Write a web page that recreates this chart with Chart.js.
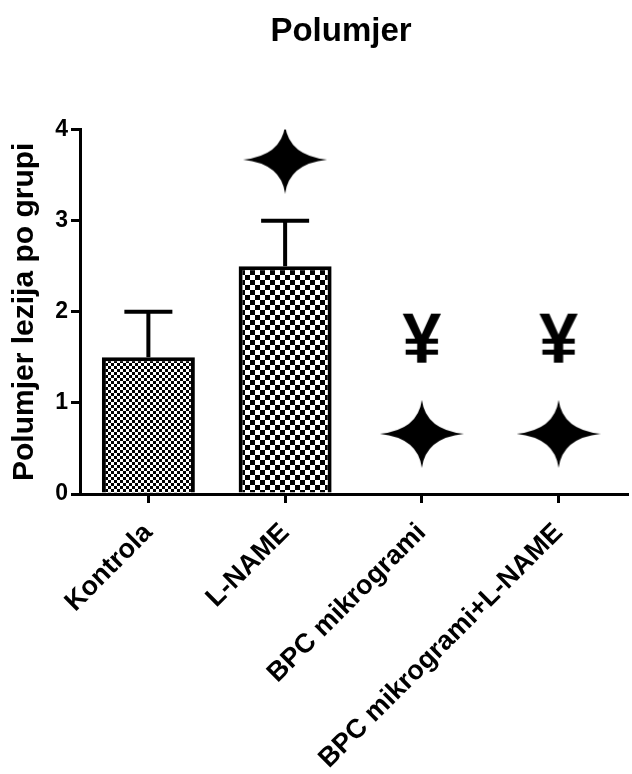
<!DOCTYPE html>
<html>
<head>
<meta charset="utf-8">
<script src="https://cdn.jsdelivr.net/npm/chart.js@4"></script>
<style>
  body { margin: 0; background: #fff; }
  #wrap { width: 632px; height: 774px; }
</style>
</head>
<body>
<div id="wrap"><canvas id="myChart" width="632" height="774"></canvas></div>
<script>
// podaci
const grupe = ['Kontrola', 'L-NAME', 'BPC mikrogrami', 'BPC mikrogrami+L-NAME'];
const polumjer = [1.5, 2.5, 0, 0];
const sem = [0.5, 0.5, 0, 0];
const zvjezdice = [null, 3.67, 0.66, 0.66]; // znak zvijezde
const jen = [null, null, 1.65, 1.65];       // znak ¥
const yTicks = [0, 1, 2, 3, 4];

const FONT = "'Liberation Sans', Arial, sans-serif";

// uzorak šahovnice
function sahovnica(cell) {
    const c = document.createElement('canvas');
    c.width = cell * 2;
    c.height = cell * 2;
    const g = c.getContext('2d');
    g.fillStyle = '#fff';
    g.fillRect(0, 0, c.width, c.height);
    g.fillStyle = '#000';
    g.fillRect(0, 0, cell, cell);
    g.fillRect(cell, cell, cell, cell);
    return document.createElement('canvas').getContext('2d').createPattern(c, 'repeat');
}

// zvijezda sa četiri kraka
function zvijezda(w, h) {
    const c = document.createElement('canvas');
    c.width = w;
    c.height = h;
    const g = c.getContext('2d');
    const cx = w / 2, cy = h / 2, k = 4;
    g.fillStyle = '#000';
    g.beginPath();
    g.moveTo(w, cy);
    g.quadraticCurveTo(cx + k, cy + k, cx, h);
    g.quadraticCurveTo(cx - k, cy + k, 0, cy);
    g.quadraticCurveTo(cx - k, cy - k, cx, 0);
    g.quadraticCurveTo(cx + k, cy - k, w, cy);
    g.closePath();
    g.fill();
    return c;
}

function znakJen(size) {
    const c = document.createElement('canvas');
    c.width = size;
    c.height = size;
    const g = c.getContext('2d');
    g.fillStyle = '#000';
    g.font = 'bold ' + size + 'px ' + FONT;
    g.textAlign = 'center';
    g.textBaseline = 'middle';
    g.fillText('¥', size / 2, size / 2);
    return c;
}

const fine = sahovnica(3);
const coarse = sahovnica(5);

// error bars
const errorBars = {
    id: 'errorBars',
    afterDatasetsDraw(chart) {
        const meta = chart.getDatasetMeta(0);
        const y = chart.scales.y;
        const ctx = chart.ctx;
        ctx.save();
        ctx.strokeStyle = '#000';
        ctx.lineWidth = 4;
        meta.data.forEach((bar, i) => {
            if (!sem[i]) return;
            const top = y.getPixelForValue(polumjer[i] + sem[i]);
            ctx.beginPath();
            ctx.moveTo(bar.x, bar.y);
            ctx.lineTo(bar.x, top);
            ctx.moveTo(bar.x - 24, top);
            ctx.lineTo(bar.x + 24, top);
            ctx.stroke();
        });
        ctx.restore();
    }
};

const ctx = document.getElementById('myChart').getContext('2d');

new Chart(ctx, {
    type: 'bar',
    data: {
        labels: grupe,
        datasets: [{
            data: polumjer,
            backgroundColor: [fine, coarse, fine, fine],
            borderColor: '#000',
            borderWidth: 4,
            barPercentage: 0.68,
            categoryPercentage: 1,
            order: 2
        }, {
            type: 'line',
            data: zvjezdice,
            showLine: false,
            pointStyle: zvijezda(84, 68),
            order: 1
        }, {
            type: 'line',
            data: jen,
            showLine: false,
            pointStyle: znakJen(70),
            order: 1
        }]
    },
    options: {
        responsive: false,
        animation: false,
        layout: {
            padding: { left: 50, right: 0, top: 0, bottom: 0 }
        },
        plugins: {
            legend: { display: false },
            tooltip: { enabled: false },
            title: {
                display: true,
                text: 'Polumjer',
                color: '#000',
                font: { family: FONT, size: 33, weight: 'bold' },
                padding: { top: 12, bottom: 78 }
            }
        },
        scales: {
            x: {
                offset: true,
                afterFit: (axis) => {
                    axis.height = 280;
                },
                border: { color: '#000', width: 3 },
                grid: {
                    offset: false,
                    drawOnChartArea: false,
                    color: '#000',
                    lineWidth: 3,
                    tickLength: 9
                },
                ticks: {
                    color: '#000',
                    autoSkip: false,
                    maxRotation: 45,
                    minRotation: 45,
                    padding: 14,
                    font: { family: FONT, size: 27, weight: 'bold' }
                }
            },
            y: {
                min: 0,
                max: 4,
                afterBuildTicks: (axis) => {
                    axis.ticks = yTicks.map(v => ({ value: v }));
                },
                afterFit: (axis) => {
                    axis.width = 30;
                },
                border: { color: '#000', width: 3 },
                grid: {
                    drawOnChartArea: false,
                    color: '#000',
                    lineWidth: 3,
                    tickLength: 9
                },
                ticks: {
                    color: '#000',
                    padding: 3,
                    font: { family: FONT, size: 23, weight: 'bold' }
                },
                title: {
                    display: true,
                    text: 'Polumjer lezija po grupi',
                    color: '#000',
                    padding: { top: -43, bottom: 0 },
                    font: { family: FONT, size: 30, weight: 'bold' }
                }
            }
        }
    },
    plugins: [errorBars]
});
</script>
</body>
</html>
